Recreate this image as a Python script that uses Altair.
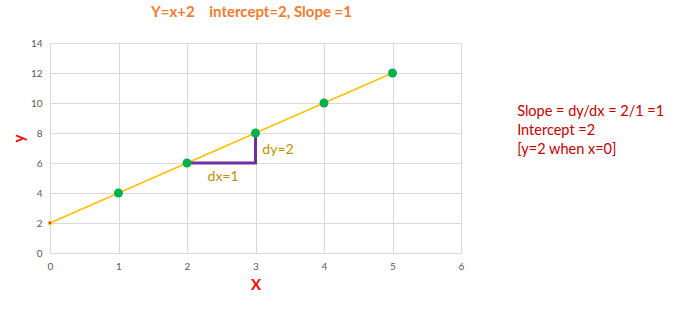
import altair as alt
import pandas as pd

# data
line_x = [0, 1, 2, 3, 4, 5]
line_y = [2, 4, 6, 8, 10, 12]
pt_x = [1, 2, 3, 4, 5]
pt_y = [4, 6, 8, 10, 12]
icpt_x = [0]
icpt_y = [2]
step_x = [2, 3, 3]
step_y = [6, 6, 8]
step_order = [0, 1, 2]
lab_text = ["dx=1", "dy=2"]
lab_x = [2.3, 3.1]
lab_y = [5.05, 6.9]
note_text = ["Slope = dy/dx = 2/1 =1", "Intercept =2", "[y=2 when x=0]"]
x_ticks = [0, 1, 2, 3, 4, 5, 6]
y_ticks = [0, 2, 4, 6, 8, 10, 12, 14]
note_x = [6.82, 6.82, 6.82]
note_y = [9.4, 8.15, 6.9]

FONT = "Lato"
xs = alt.Scale(domain=[0, 6], nice=False, zero=False)
ys = alt.Scale(domain=[0, 14], nice=False, zero=False)

line_df = pd.DataFrame({"x": line_x, "y": line_y})
pt_df = pd.DataFrame({"x": pt_x, "y": pt_y})
ic_df = pd.DataFrame({"x": icpt_x, "y": icpt_y})
step_df = pd.DataFrame({"x": step_x, "y": step_y, "o": step_order})
lab_df = pd.DataFrame({"x": lab_x, "y": lab_y, "t": lab_text})
note_df = pd.DataFrame({"x": note_x, "y": note_y, "t": note_text})

xax = alt.Axis(title="X", values=x_ticks, format="d", titlePadding=6)
yax = alt.Axis(title="y", values=y_ticks, format="d", titleX=-24, titleY=95)

def X():
    return alt.X("x:Q", scale=xs, axis=xax)

def Y():
    return alt.Y("y:Q", scale=ys, axis=yax)

line = alt.Chart(line_df).mark_line(color="#FFC000", strokeWidth=1.5).encode(x=X(), y=Y())
step = alt.Chart(step_df).mark_line(color="#7030A0", strokeWidth=3).encode(
    x=X(), y=Y(), order="o:Q")
pts = alt.Chart(pt_df).mark_point(filled=True, color="#00B050", size=80, opacity=1).encode(
    x=X(), y=Y())
ic = alt.Chart(ic_df).mark_point(filled=True, color="#FF3300", size=12, opacity=1,
                                 stroke="#FFC000", strokeWidth=1).encode(x=X(), y=Y())
labs = alt.Chart(lab_df).mark_text(color="#BF9000", fontSize=14, font=FONT, align="left",
                                   baseline="middle").encode(x=X(), y=Y(), text="t:N")
notes = alt.Chart(note_df).mark_text(color="#C00000", fontSize=14.5, font=FONT, align="left",
                                     baseline="middle").encode(x=X(), y=Y(), text="t:N")

chart = alt.layer(line, step, pts, ic, labs, notes).properties(
    width=411, height=210,
    background="white",
    title=alt.TitleParams("Y=x+2\u00a0\u00a0\u00a0\u00a0intercept=2, Slope =1",
                          color="#ED7D31", fontSize=15, fontWeight="bold", font=FONT,
                          anchor="middle", offset=18, dx=-4),
    autosize=alt.AutoSizeParams(type="none"),
    padding={"left": 50, "top": 43, "right": 223, "bottom": 60},
).configure_view(stroke=None).configure_axis(
    labelOverlap=False, labelFlush=False,
    titleColor="#FF0000", titleFontWeight="bold", titleFontSize=15, titleFont=FONT,
    labelColor="#595959", labelFontSize=10, labelFont=FONT, labelPadding=8,
    ticks=False, domainColor="#D9D9D9", gridColor="#D9D9D9",
)

chart.save("out.html", embed_options={"renderer": "svg", "actions": False})
